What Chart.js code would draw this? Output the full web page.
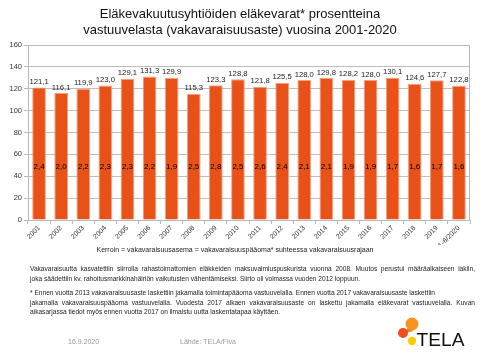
<!DOCTYPE html>
<html><head><meta charset="utf-8">
<script src="https://cdn.jsdelivr.net/npm/chart.js@4/dist/chart.umd.min.js"></script>
<style>
html,body{margin:0;padding:0;background:#fff;}
#wrap{position:relative;width:480px;height:360px;overflow:hidden;font-family:"Liberation Sans",Arial,sans-serif;}
canvas{position:absolute;left:0;top:0;}
.t{position:absolute;white-space:pre;color:#222;}
#title{left:0;width:480px;top:6px;text-align:center;font-size:13px;line-height:15.5px;color:#111;}
#kerroin{left:0;width:470px;top:246px;text-align:center;font-size:7px;}
.p{position:absolute;left:30px;width:445px;font-size:6.6px;line-height:9.5px;color:#222;white-space:nowrap;}
.j{text-align:justify;text-align-last:justify;white-space:normal;}
#date{left:68px;top:338px;font-size:7px;color:#999;}
#src{left:180px;top:338px;font-size:7px;color:#999;}
#logo{position:absolute;left:395px;top:312px;}
</style></head>
<body><div id="wrap">
<canvas id="c" width="480" height="360"></canvas>
<div id="title" class="t">Eläkevakuutusyhtiöiden eläkevarat* prosentteina
vastuuvelasta (vakavaraisuusaste) vuosina 2001-2020</div>
<div id="kerroin" class="t">Kerroin = vakavaraisuusasema = vakavaraisuuspääoma* suhteessa vakavaraisuusrajaan</div>
<div class="p j" style="top:264px">Vakavaraisuutta kasvatettiin siirrolla rahastoimattomien eläkkeiden maksuvalmiuspuskurista vuonna 2008. Muutos perustui määräaikaiseen lakiin,</div>
<div class="p" style="top:273.5px">joka säädettiin kv. rahoitusmarkkinahäiriön vaikutusten vähentämiseksi. Siirto oli voimassa vuoden 2012 loppuun.</div>
<div class="p" style="top:288px">* Ennen vuotta 2013 vakavaraisuusaste laskettiin jakamalla toimintapääoma vastuuvelalla. Ennen vuotta 2017 vakavaraisuusaste laskettiin</div>
<div class="p j" style="top:297.5px">jakamalla vakavaraisuuspääoma vastuuvelalla. Vuodesta 2017 alkaen vakavaraisuusaste on laskettu jakamalla eläkevarat vastuuvelalla. Kuvan</div>
<div class="p" style="top:307px">aikasarjassa tiedot myös ennen vuotta 2017 on ilmaistu uutta laskentatapaa käyttäen.</div>
<div id="date" class="t">16.9.2020</div>
<div id="src" class="t">Lähde: TELA/Fiva</div>
<svg id="logo" width="85" height="40" viewBox="0 0 85 40">
  <path d="M13 16 L9 21 L19 19 Z" fill="#f47c1a"/>
  <circle cx="17" cy="12" r="6.5" fill="#f7941d"/>
  <circle cx="8" cy="21" r="5" fill="#f04e1e"/>
  <circle cx="17" cy="29" r="4.2" fill="#ffcc00"/>
  <text x="21.5" y="33.8" font-family="Liberation Sans, Arial, sans-serif" font-size="18" fill="#111" textLength="48" lengthAdjust="spacingAndGlyphs">TELA</text>
</svg>
</div>
<script>
const years = ['2001','2002','2003','2004','2005','2006','2007','2008','2009','2010','2011','2012','2013','2014','2015','2016','2017','2018','2019','1-6/2020'];
const solvency = [121.1,116.1,119.9,123.0,129.1,131.3,129.9,115.3,123.3,128.8,121.8,125.5,128.0,129.8,128.2,128.0,130.1,124.6,127.7,122.8];
const coefficient = [2.4,2.0,2.2,2.3,2.3,2.2,1.9,2.5,2.8,2.5,2.6,2.4,2.1,2.1,1.9,1.9,1.7,1.6,1.7,1.6];
const yTicks = [0,20,40,60,80,100,120,140,160];

const fmt = v => v.toFixed(1).replace('.', ',');

const plotBorder = {
  id: 'plotBorder',
  beforeDatasetsDraw(chart) {
    const a = chart.chartArea, ctx = chart.ctx;
    ctx.save();
    ctx.strokeStyle = '#b8b8b8';
    ctx.lineWidth = 1;
    ctx.strokeRect(a.left + 0.5, a.top + 0.5, a.right - a.left - 1, a.bottom - a.top);
    ctx.restore();
  }
};

const labelsPlugin = {
  id: 'barLabels',
  afterDatasetsDraw(chart) {
    const ctx = chart.ctx;
    const meta = chart.getDatasetMeta(0);
    const ys = chart.scales.y;
    ctx.save();
    ctx.textAlign = 'center';
    meta.data.forEach((bar, i) => {
      ctx.fillStyle = '#222';
      ctx.textBaseline = 'alphabetic';
      ctx.font = '7.7px "Liberation Sans", Arial, sans-serif';
      ctx.fillText(fmt(solvency[i]), bar.x, bar.y - 3.5);
      ctx.fillStyle = '#000';
      ctx.font = '8px "Liberation Sans", Arial, sans-serif';
      ctx.textBaseline = 'middle';
      ctx.fillText(fmt(coefficient[i]), bar.x, ys.getPixelForValue(49));
    });
    ctx.restore();
  }
};

new Chart(document.getElementById('c'), {
  type: 'bar',
  data: {
    labels: years,
    datasets: [{
      data: solvency,
      backgroundColor: '#e85118',
      borderColor: '#f4a080',
      borderWidth: 1,
      borderSkipped: 'bottom',
      barPercentage: 0.62,
      categoryPercentage: 1.0
    }]
  },
  options: {
    responsive: false,
    animation: false,
    devicePixelRatio: 1,
    layout: { padding: { left: 0, right: 10, top: 45, bottom: 115 } },
    plugins: { legend: { display: false }, title: { display: false }, tooltip: { enabled: false } },
    scales: {
      y: {
        min: 0, max: 160,
        afterBuildTicks: s => { s.ticks = yTicks.map(v => ({ value: v })); },
        afterFit: s => { s.width = 28; },
        border: { color: '#b8b8b8' },
        grid: { color: '#bdbdbd', tickLength: 4, tickColor: '#b8b8b8' },
        ticks: { padding: 2, color: '#333', font: { size: 7.5, family: '"Liberation Sans", Arial, sans-serif' } }
      },
      x: {
        afterFit: s => { s.height = 25; },
        border: { color: '#b8b8b8' },
        grid: { offset: true, drawOnChartArea: false, tickLength: 4, tickColor: '#b8b8b8' },
        ticks: { autoSkip: false, maxRotation: 45, minRotation: 45, padding: 0, color: '#333', font: { size: 7, family: '"Liberation Sans", Arial, sans-serif' } }
      }
    }
  },
  plugins: [plotBorder, labelsPlugin]
});
</script>
</body></html>
